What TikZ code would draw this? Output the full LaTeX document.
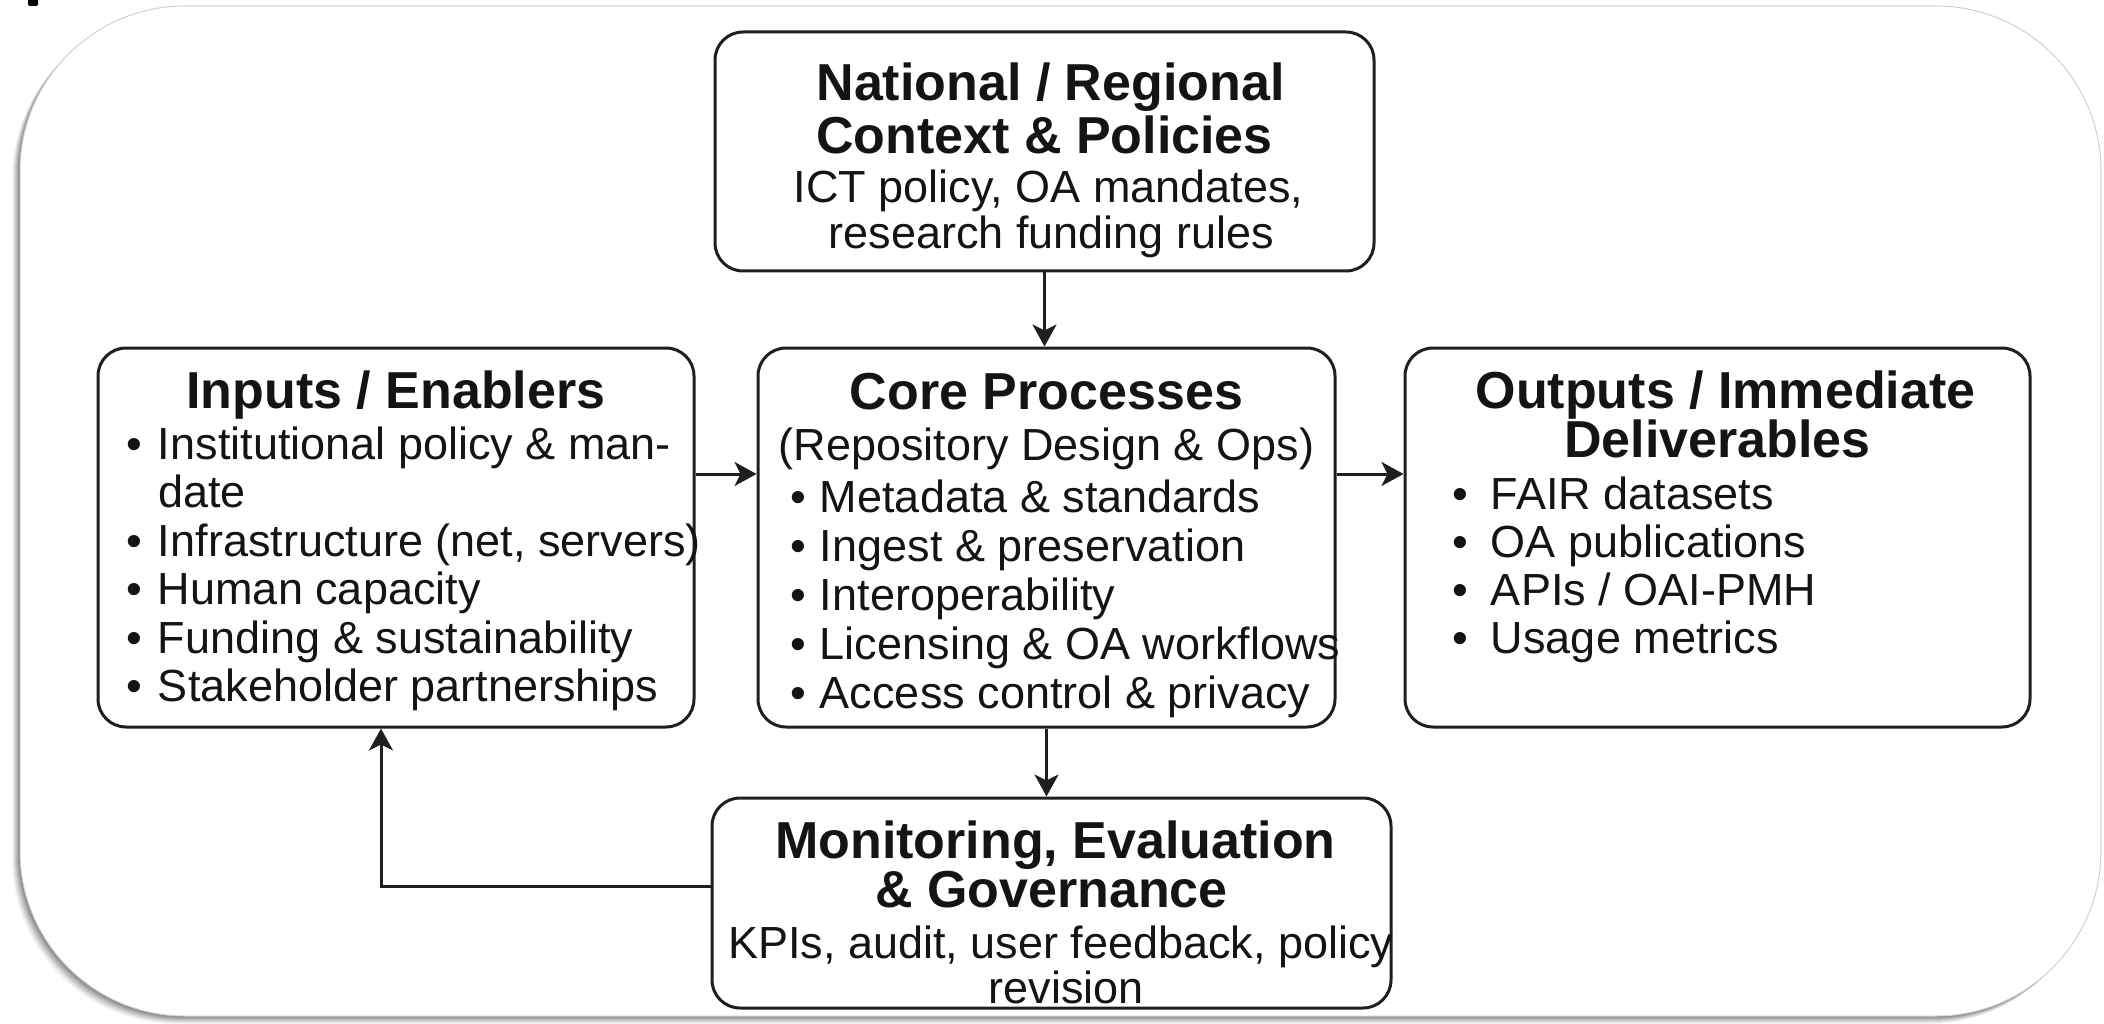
\documentclass[tikz,border=0pt]{standalone}
\usepackage{fontspec}
\setmainfont{Liberation Sans}
\usetikzlibrary{arrows.meta}
\newcommand{\ttl}[2]{{\centering\fontsize{52}{#1}\selectfont\bfseries\mbox{#2}\par}}
\newcommand{\bdy}[2]{{\centering\fontsize{45}{#1}\selectfont #2\par}}
\newcommand{\blt}[4]{{\raggedright\leftskip=#2\relax\fontsize{45}{#1}\selectfont\makebox[#3][l]{\textbullet}\mbox{#4}\par}}
\newcommand{\cnt}[3]{{\raggedright\leftskip=#2\relax\fontsize{45}{#1}\selectfont\mbox{#3}\par}}
\tikzset{
  box/.style={draw=black!88, line width=3pt, rounded corners=28pt, fill=white, inner sep=0pt, text=black!92},
  arr/.style={draw=black!88, line width=3pt, -{Stealth[length=22pt,width=24pt,inset=6pt]}},
}
\begin{document}
\begin{tikzpicture}[x=1pt,y=-1pt]
\useasboundingbox (0,0) rectangle (2104,1024);
% outer frame with shadow
\foreach \k/\o in {8/0.04,7/0.05,6/0.06,5/0.07,4/0.08,3/0.09,2/0.1,1/0.12}{
  \fill[black,opacity=\o,rounded corners=165pt] (20-\k,6+\k) rectangle (2101-\k,1016+\k);
}
\filldraw[fill=white,draw=black!18,line width=1pt,rounded corners=165pt] (20,6) rectangle (2101,1016);
\fill[black,rounded corners=2pt] (28,-4) rectangle (38,6);

% boxes
\node[box, minimum width=659pt, minimum height=239pt] (top) at (1044.5,151.5)
 {\parbox[c][239pt][t]{659pt}{%
  \ttl{52}{\rule{0pt}{69pt}\hspace*{12pt}National / Regional}
  \ttl{53}{Context \& Policies}
  \bdy{49}{\hspace*{8pt}\mbox{ICT policy, OA mandates,}}
  \bdy{46}{\hspace*{14pt}\mbox{research funding rules}}}};

\node[box, minimum width=596pt, minimum height=379pt] (inputs) at (396,537.5)
 {\parbox[c][379pt][t]{596pt}{%
  \ttl{52}{\rule{0pt}{60pt}Inputs / Enablers}
  \blt{51}{28pt}{32pt}{Institutional policy \& man-}
  \cnt{48.5}{60pt}{date}
  \blt{48.5}{28pt}{32pt}{Infrastructure (net, servers)}
  \blt{48.5}{28pt}{32pt}{Human capacity}
  \blt{48.5}{28pt}{32pt}{Funding \& sustainability}
  \blt{48.5}{28pt}{32pt}{Stakeholder partnerships}}};

\node[box, minimum width=577pt, minimum height=379pt] (core) at (1046.5,537.5)
 {\parbox[c][379pt][t]{577pt}{%
  \ttl{52}{\rule{0pt}{61pt}Core Processes}
  \bdy{51}{\mbox{(Repository Design \& Ops)}}
  \blt{52}{32pt}{30pt}{Metadata \& standards}
  \blt{49}{32pt}{30pt}{Ingest \& preservation}
  \blt{49}{32pt}{30pt}{Interoperability}
  \blt{49}{32pt}{30pt}{Licensing \& OA workflows}
  \blt{49}{32pt}{30pt}{Access control \& privacy}}};

\node[box, minimum width=625pt, minimum height=379pt] (outputs) at (1717.5,537.5)
 {\parbox[c][379pt][t]{625pt}{%
  \ttl{52}{\rule{0pt}{60pt}\hspace*{16pt}Outputs / Immediate}
  \ttl{49}{Deliverables}
  \blt{52}{47pt}{39pt}{FAIR datasets}
  \blt{48}{47pt}{39pt}{OA publications}
  \blt{48}{47pt}{39pt}{APIs / OAI-PMH}
  \blt{48}{47pt}{39pt}{Usage metrics}}};

\node[box, minimum width=679pt, minimum height=210pt] (monitor) at (1051.5,903)
 {\parbox[c][210pt][t]{679pt}{%
  \ttl{52}{\rule{0pt}{60pt}\hspace*{8pt}Monitoring, Evaluation}
  \ttl{49}{\& Governance}
  \bdy{51}{\hspace*{16pt}\mbox{KPIs, audit, user feedback, policy}}
  \bdy{45}{\hspace*{30pt}revision}}};

% connectors
\coordinate (hy) at (0,474);
\coordinate (fb) at (381,886);
\draw[arr] (top.south) -- (top.south |- core.north);
\draw[arr] (inputs.east |- hy) -- (core.west |- hy);
\draw[arr] (core.east |- hy) -- (outputs.west |- hy);
\draw[arr] (core.south) -- (core.south |- monitor.north);
\draw[arr] (monitor.west |- fb) -- (fb) -- (fb |- inputs.south);
\end{tikzpicture}
\end{document}
